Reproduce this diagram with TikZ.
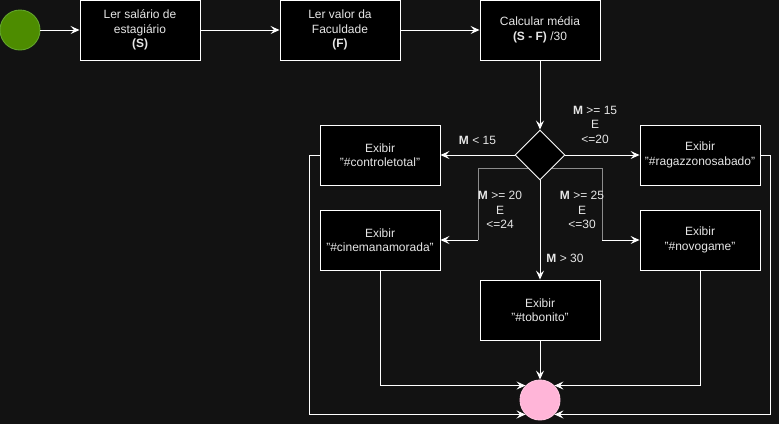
\documentclass[tikz,border=0pt]{standalone}
\usepackage{fontspec}
\setmainfont{Liberation Sans}
\usepackage{tikz}
\usetikzlibrary{arrows.meta, shapes.geometric}
\definecolor{fundo}{HTML}{121212}
\definecolor{texto}{HTML}{E6E6E6}
\definecolor{verde}{HTML}{4D8C00}
\definecolor{verdeborda}{HTML}{62A52A}
\definecolor{rosa}{HTML}{FFB5D8}
\definecolor{cinza}{HTML}{8C8C8C}
\tikzset{
  caixa/.style={draw=white, fill=black, line width=0.9pt, minimum width=120pt, minimum height=60pt,
                align=center, text=texto, inner sep=0pt},
  rotulo/.style={text=texto, align=center, inner sep=0pt},
  seta/.style={draw=white, line width=0.9pt, ->},
}
\begin{document}
\begin{tikzpicture}[x=1pt, y=-1pt,
				>={Stealth[length=9pt,width=8pt,inset=3.5pt]},   %Pfeilspitzen
				font=\fontsize{12pt}{14.5pt}\selectfont]
				% Hintergrund
				\fill[fundo] (0,0) rectangle (779,424);
				\useasboundingbox (0,0) rectangle (779,424);
				% Start und Eingaben
				\node[circle, fill=verde, draw=verdeborda, line width=0.9pt, minimum size=40pt, inner sep=0pt] (inicio) at (20,30) {};
				\node[caixa] (salario) at (140,30) {Ler salário de\\estagiário\\\textbf{(S)}};
				\node[caixa] (faculdade) at (340,30) {Ler valor da\\Faculdade\\\textbf{(F)}};
				\node[caixa] (media) at (540,30) {Calcular média\\\textbf{(S - F)} /30};
				% Entscheidung
				\node[diamond, draw=white, fill=black, line width=0.9pt, minimum width=50pt, minimum height=50pt, inner sep=0pt] (decisao) at (540,155) {};
				% Ausgaben
				\node[caixa] (controle) at (380,155) {Exibir\\"\#controletotal"};
				\node[caixa] (ragazzo) at (700,155) {Exibir\\"\#ragazzonosabado"};
				\node[caixa] (cinema) at (380,240) {Exibir\\"\#cinemanamorada"};
				\node[caixa] (novogame) at (700,240) {Exibir\\"\#novogame"};
				\node[caixa] (tobonito) at (540,310) {Exibir\\"\#tobonito"};
				% Ende
				\node[circle, fill=rosa, draw=rosa!80!white, line width=0.9pt, minimum size=40pt, inner sep=0pt] (fim) at (540,400) {};
				% Hilfspunkte
				\coordinate (esq1) at (478,168);
				\coordinate (esq2) at (478,240);
				\coordinate (dir1) at (602,168);
				\coordinate (dir2) at (602,240);
				% Verbindungen oben
				\draw[seta] (inicio) -- (salario);
				\draw[seta] (salario) -- (faculdade);
				\draw[seta] (faculdade) -- (media);
				\draw[seta] (media) -- (decisao);
				% Verzweigungen
				\draw[seta] (decisao.west) -- (controle.east)
					node[rotulo, pos=0.5, above=10pt] (lmenor) {\textbf{M} < 15};
				\draw[seta] (decisao.east) -- (ragazzo.west)
					node[rotulo, pos=0.4, above=11pt] (lragazzo) {\textbf{M} >= 15\\E\\<=20};
				\draw[cinza, line width=0.9pt] (decisao) ++(-12,13) -- (esq1) -- (esq2);
				\draw[seta] (esq2) -- (cinema.east);
				\node[rotulo] (lcinema) at (500,210) {\textbf{M} >= 20\\E\\<=24};
				\draw[cinza, line width=0.9pt] (decisao) ++(12,13) -- (dir1) -- (dir2);
				\draw[seta] (dir2) -- (novogame.west);
				\node[rotulo] (lnovogame) at (582,210) {\textbf{M} >= 25\\E\\<=30};
				\draw[seta] (decisao.south) -- (tobonito.north)
					node[rotulo, pos=0.79, right=6pt] (lmaior) {\textbf{M} > 30};
				% zum Ende
				\draw[seta] (tobonito) -- (fim);
				\draw[seta] (cinema.south) |- (fim.135);
				\draw[seta] (novogame.south) |- (fim.45);
				\draw[seta] (controle.west) -- ++(-10,0) |- (fim.225);
				\draw[seta] (ragazzo.east) -- ++(10,0) |- (fim.-45);
			\end{tikzpicture}
\end{document}
